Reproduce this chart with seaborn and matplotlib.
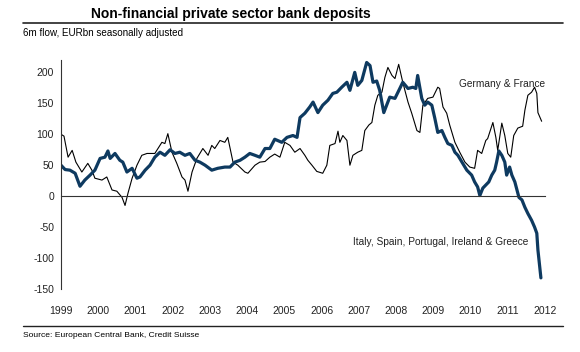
import matplotlib
matplotlib.use("Agg")
import matplotlib.pyplot as plt
import seaborn as sns
import pandas as pd

# 数据：点（年份为小数）
periph_year = [1999.00, 1999.11, 1999.24, 1999.38, 1999.51, 1999.64, 1999.78, 1999.91,
               2000.05, 2000.18, 2000.26, 2000.32, 2000.45, 2000.58, 2000.66, 2000.77, 2000.91,
               2001.04, 2001.12, 2001.26, 2001.39, 2001.52, 2001.66, 2001.79, 2001.93,
               2002.06, 2002.19, 2002.33, 2002.46, 2002.60, 2002.73, 2002.87,
               2003.05, 2003.21, 2003.40, 2003.54, 2003.67, 2003.81, 2003.94,
               2004.07, 2004.21, 2004.34, 2004.48, 2004.61, 2004.74, 2004.93,
               2005.07, 2005.23, 2005.34, 2005.42, 2005.55, 2005.68, 2005.77, 2005.90,
               2006.03, 2006.17, 2006.30, 2006.41, 2006.54, 2006.68, 2006.76, 2006.89, 2006.97,
               2007.08, 2007.21, 2007.30, 2007.38, 2007.48, 2007.56, 2007.67, 2007.83, 2007.97,
               2008.10, 2008.18, 2008.32, 2008.45, 2008.53, 2008.58, 2008.69, 2008.77, 2008.85, 2008.96,
               2009.04, 2009.12, 2009.23, 2009.31, 2009.39, 2009.50, 2009.58, 2009.66, 2009.77, 2009.90,
               2010.03, 2010.11, 2010.19, 2010.25, 2010.33, 2010.41, 2010.49, 2010.57, 2010.65,
               2010.70, 2010.76, 2010.84, 2010.92, 2010.97,
               2011.05, 2011.11, 2011.19, 2011.30, 2011.38, 2011.46, 2011.54, 2011.64, 2011.72,
               2011.78, 2011.81, 2011.89]
periph_flow = [50, 43, 42, 37, 16, 26, 34, 42,
               61, 63, 73, 61, 69, 58, 55, 39, 45,
               29, 31, 42, 50, 63, 71, 66, 75,
               69, 71, 66, 69, 58, 55, 50,
               42, 45, 47, 47, 55, 58, 63,
               69, 66, 63, 77, 77, 92, 87,
               95, 98, 95, 127, 134, 144, 152, 135,
               147, 155, 166, 168, 176, 184, 171, 200, 179,
               187, 216, 211, 184, 186, 171, 135, 160, 158,
               174, 184, 174, 176, 174, 195, 158, 147, 152, 147,
               126, 103, 106, 95, 85, 82, 71, 66, 55, 42,
               34, 23, 15, 1, 13, 18, 23, 34, 42,
               55, 73, 66, 55, 34,
               47, 34, 23, -2, -6, -18, -28, -39, -50,
               -60, -87, -132]

core_year = [1999.00, 1999.08, 1999.19, 1999.30, 1999.40, 1999.56, 1999.72, 1999.83, 1999.91,
             2000.10, 2000.23, 2000.37, 2000.50, 2000.64, 2000.72, 2000.80, 2000.91,
             2001.04, 2001.17, 2001.31, 2001.52, 2001.71, 2001.79, 2001.87, 2001.98,
             2002.11, 2002.25, 2002.33, 2002.41, 2002.52, 2002.65, 2002.81, 2002.95,
             2003.05, 2003.13, 2003.27, 2003.40, 2003.48, 2003.62, 2003.75, 2003.94,
             2004.02, 2004.21, 2004.34, 2004.48, 2004.61, 2004.74, 2004.88,
             2005.01, 2005.15, 2005.28, 2005.42, 2005.55, 2005.63, 2005.74, 2005.87,
             2006.03, 2006.14, 2006.22, 2006.36, 2006.44, 2006.49, 2006.57, 2006.68, 2006.76,
             2006.84, 2006.97,
             2007.08, 2007.16, 2007.27, 2007.35, 2007.43, 2007.51, 2007.62, 2007.70, 2007.78,
             2007.89, 2007.97,
             2008.07, 2008.18, 2008.32, 2008.42, 2008.56, 2008.64, 2008.72, 2008.85, 2008.99,
             2009.12, 2009.17, 2009.26, 2009.36, 2009.44, 2009.58, 2009.71, 2009.85, 2009.98,
             2010.11, 2010.19, 2010.30, 2010.41, 2010.46, 2010.60, 2010.68, 2010.73, 2010.84,
             2010.92, 2011.00, 2011.08, 2011.16, 2011.27, 2011.40, 2011.46, 2011.54, 2011.64,
             2011.72, 2011.78, 2011.81, 2011.91]
core_flow = [100, 97, 63, 74, 55, 39, 53, 42, 29,
             26, 31, 10, 8, -2, -15, 5, 29,
             50, 66, 69, 69, 87, 85, 101, 71,
             53, 31, 26, 8, 39, 61, 77, 66,
             82, 77, 90, 87, 95, 55, 50, 39,
             37, 50, 55, 56, 63, 68, 63,
             87, 82, 71, 77, 66, 58, 50, 40,
             37, 50, 82, 85, 105, 87, 98, 90, 50,
             66, 71,
             74, 106, 115, 119, 147, 163, 168, 192, 208,
             195, 190,
             213, 184, 152, 134, 106, 103, 147, 158, 160,
             176, 174, 144, 134, 115, 87, 71, 55, 47,
             45, 74, 69, 90, 93, 119, 95, 74, 118,
             98, 69, 63, 98, 110, 113, 139, 163, 168,
             176, 166, 135, 121]

year_ticks = list(range(1999, 2013))
flow_ticks = [-150, -100, -50, 0, 50, 100, 150, 200]

NAVY = '#0e3a60'
TXT = '#222222'

sns.set_style("white")
plt.rcParams['font.family'] = ['Liberation Sans', 'DejaVu Sans']
plt.rcParams['axes.unicode_minus'] = False

fig = plt.figure(figsize=(5.8, 3.52), dpi=100)
ax = fig.add_axes([61 / 580, 1 - 289 / 352, 484 / 580, 229 / 352])

sns.lineplot(x=core_year, y=core_flow, ax=ax, color='black', linewidth=0.8)
sns.lineplot(x=periph_year, y=periph_flow, ax=ax, color=NAVY, linewidth=2.3)

ax.set_xlim(1999, 2012)
ax.set_ylim(-150, 220)

# 左轴
for s in ['top', 'right']:
    ax.spines[s].set_visible(False)
ax.spines['left'].set_color('#333333')
ax.spines['left'].set_linewidth(0.8)
ax.spines['left'].set_bounds(-150, 220)
ax.set_yticks(flow_ticks)
ax.set_yticklabels([str(v) for v in flow_ticks])
ax.tick_params(axis='y', direction='out', length=3, width=0.8, color='#333333',
               labelsize=7.5, labelcolor=TXT, pad=2)

# x 轴线放在 0 处，标签放在底部
ax.spines['bottom'].set_position(('data', 0))
ax.spines['bottom'].set_color('#333333')
ax.spines['bottom'].set_linewidth(0.8)
ax.set_xticks(year_ticks)
ax.tick_params(axis='x', direction='out', length=3, width=0.8, color='#333333',
               labelbottom=False)

sec = ax.secondary_xaxis('bottom')
sec.spines['bottom'].set_visible(False)
sec.set_xticks(year_ticks)
sec.set_xticklabels([str(y) for y in year_ticks])
sec.tick_params(axis='x', length=0, labelsize=7.5, labelcolor=TXT, pad=12)

ax.set_xlabel('')
ax.set_ylabel('')
ax.grid(False)

# 标注
ax.text(2009.68, 182, 'Germany & France', fontsize=7.3, color=TXT, ha='left', va='center')
ax.text(2006.84, -74, 'Italy, Spain, Portugal, Ireland & Greece', fontsize=7.3, color=TXT,
        ha='left', va='center')

# 标题和注释
fig.text(231 / 580, 1 - 14 / 352, 'Non-financial private sector bank deposits',
         fontsize=10, fontweight='bold', ha='center', va='center', color='black')
fig.add_artist(plt.Line2D([23 / 580, 563 / 580], [1 - 22.5 / 352] * 2, color='#222222', linewidth=1.2))
fig.text(23 / 580, 1 - 33 / 352, '6m flow, EURbn seasonally adjusted',
         fontsize=7.1, ha='left', va='center', color='black')
fig.add_artist(plt.Line2D([23 / 580, 563 / 580], [1 - 326 / 352] * 2, color='#222222', linewidth=1.0))
fig.text(23 / 580, 1 - 335.5 / 352, 'Source: European Central Bank, Credit Suisse',
         fontsize=6.1, ha='left', va='center', color='black')

fig.savefig('out.png', dpi=100)
